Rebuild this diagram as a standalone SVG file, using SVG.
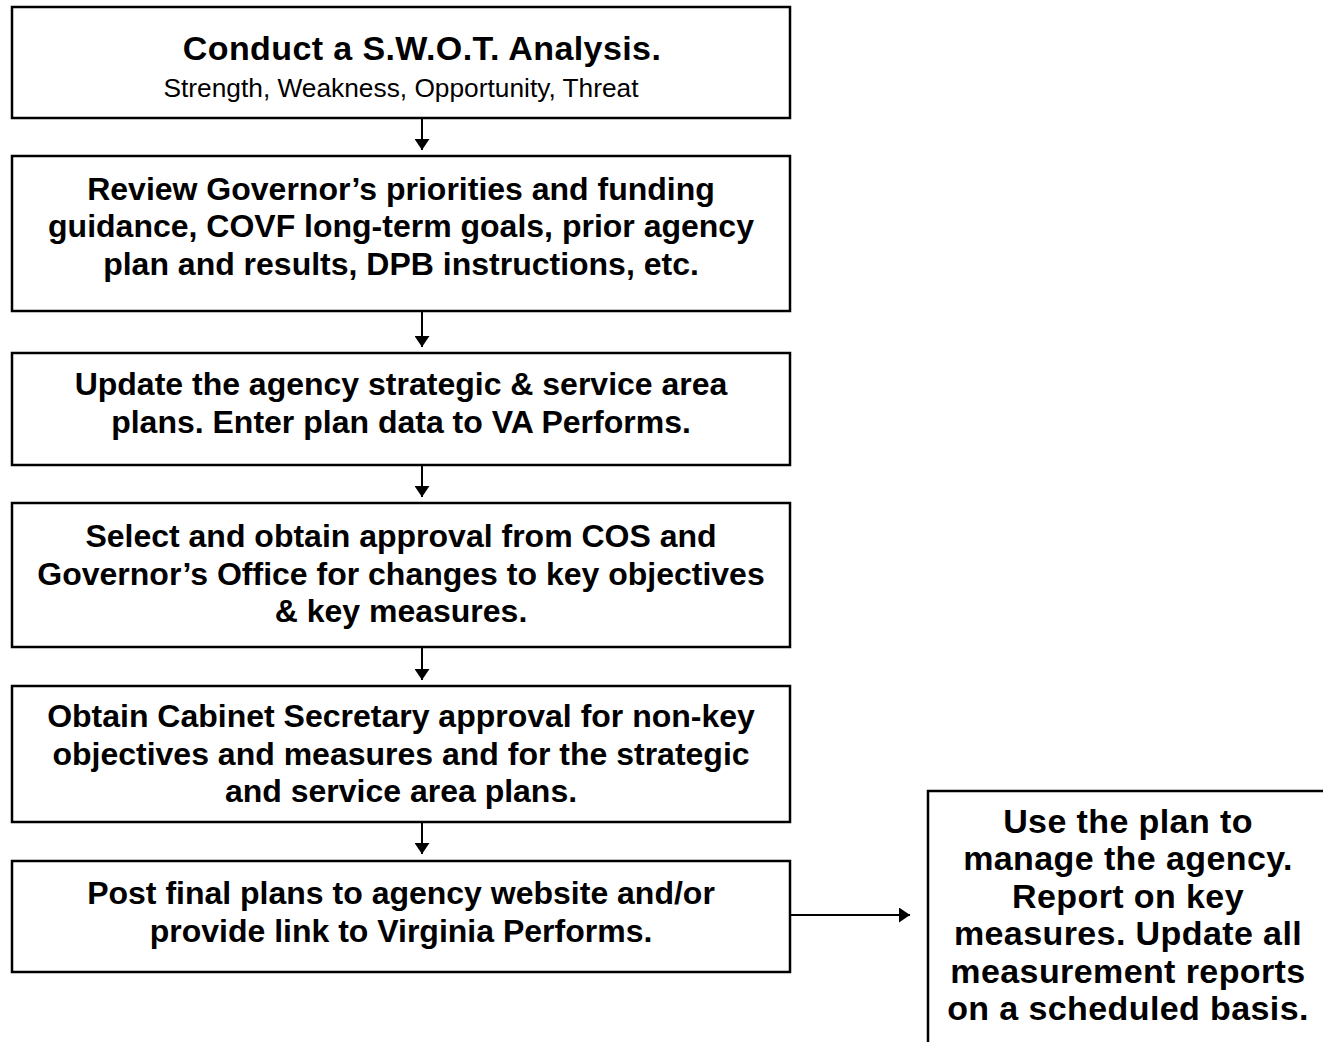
<svg xmlns="http://www.w3.org/2000/svg" width="1323" height="1042" viewBox="0 0 1323 1042">
  <style>
    .box { fill: #ffffff; stroke: #000000; stroke-width: 2.5; }
    .t { font-family: "Liberation Sans", Arial, sans-serif; font-size: 32px; font-weight: bold; text-anchor: middle; fill: #000000; }
    .wide { font-size: 34px; letter-spacing: 0.4px; }
    .sub { font-family: "Liberation Sans", Arial, sans-serif; font-size: 26.3px; text-anchor: middle; fill: #000000; }
    .link { stroke: #000000; stroke-width: 2; fill: none; marker-end: url(#head); }
  </style>
  <defs>
    <marker id="head" viewBox="0 0 11 15" refX="11" refY="7.5" markerWidth="11" markerHeight="15" markerUnits="userSpaceOnUse" orient="auto">
      <path d="M0,0 L11,7.5 L0,15 Z" fill="#000000"/>
    </marker>
  </defs>
  <rect width="1323" height="1042" fill="#ffffff"/>

  <!-- step 1: analysis box with its subtitle -->
  <g id="swot">
    <rect class="box" x="12" y="7" width="778" height="111"/>
    <text class="t wide" x="422" y="60">Conduct a S.W.O.T. Analysis.</text>
    <text class="sub" x="401" y="97">Strength, Weakness, Opportunity, Threat</text>
  </g>

  <g id="review">
    <rect class="box" x="12" y="156" width="778" height="155"/>
    <text class="t" x="401" y="200">Review Governor’s priorities and funding</text>
    <text class="t" x="401" y="237">guidance, COVF long-term goals, prior agency</text>
    <text class="t" x="401" y="275">plan and results, DPB instructions, etc.</text>
  </g>

  <g id="update">
    <rect class="box" x="12" y="353" width="778" height="112"/>
    <text class="t" x="401" y="395">Update the agency strategic &amp; service area</text>
    <text class="t" x="401" y="433">plans. Enter plan data to VA Performs.</text>
  </g>

  <g id="select">
    <rect class="box" x="12" y="503" width="778" height="144"/>
    <text class="t" x="401" y="547">Select and obtain approval from COS and</text>
    <text class="t" x="401" y="585">Governor’s Office for changes to key objectives</text>
    <text class="t" x="401" y="622">&amp; key measures.</text>
  </g>

  <g id="cabinet">
    <rect class="box" x="12" y="686" width="778" height="136"/>
    <text class="t" x="401" y="727">Obtain Cabinet Secretary approval for non-key</text>
    <text class="t" x="401" y="765">objectives and measures and for the strategic</text>
    <text class="t" x="401" y="802">and service area plans.</text>
  </g>

  <g id="post">
    <rect class="box" x="12" y="861" width="778" height="111"/>
    <text class="t" x="401" y="904">Post final plans to agency website and/or</text>
    <text class="t" x="401" y="942">provide link to Virginia Performs.</text>
  </g>

  <!-- side box, runs past the bottom and right edges -->
  <g id="manage">
    <rect class="box" x="928" y="791" width="420" height="270"/>
    <text class="t wide" x="1128" y="833">Use the plan to</text>
    <text class="t wide" x="1128" y="870">manage the agency.</text>
    <text class="t wide" x="1128" y="908">Report on key</text>
    <text class="t wide" x="1128" y="945">measures. Update all</text>
    <text class="t wide" x="1128" y="983">measurement reports</text>
    <text class="t wide" x="1128" y="1020">on a scheduled basis.</text>
  </g>

  <g id="connectors">
    <line class="link" x1="422" y1="118" x2="422" y2="150"/>
    <line class="link" x1="422" y1="311" x2="422" y2="347"/>
    <line class="link" x1="422" y1="465" x2="422" y2="497"/>
    <line class="link" x1="422" y1="647" x2="422" y2="680"/>
    <line class="link" x1="422" y1="822" x2="422" y2="854"/>
    <line class="link" x1="790" y1="915" x2="910" y2="915"/>
  </g>
</svg>
